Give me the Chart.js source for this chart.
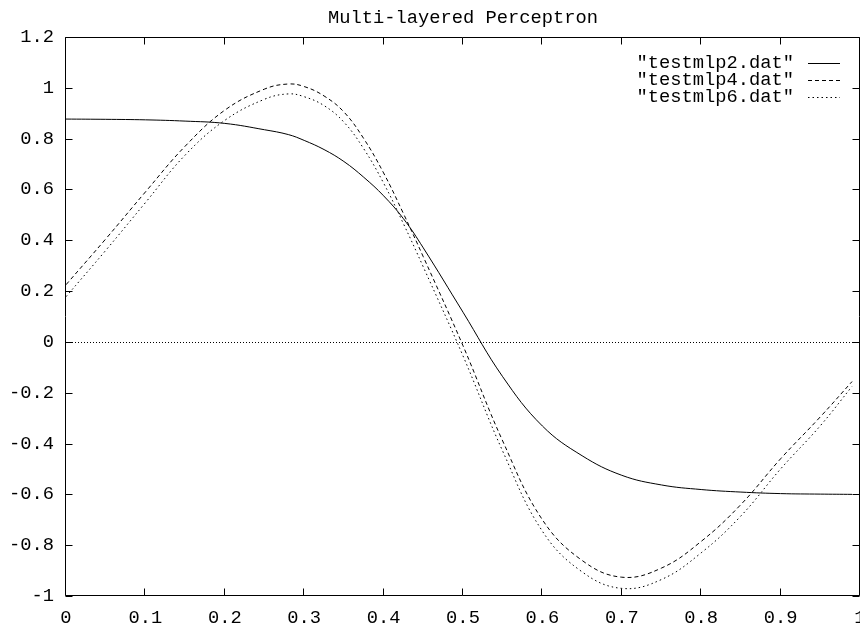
<!DOCTYPE html>
<html>
<head>
<meta charset="utf-8">
<script src="https://cdn.jsdelivr.net/npm/chart.js@4.4.0/dist/chart.umd.min.js"></script>
<style>
  html, body { margin: 0; padding: 0; background: #fff; }
  #wrap { width: 860px; height: 625px; }
</style>
</head>
<body>
<div id="wrap"><canvas id="chart" width="860" height="625"></canvas></div>
<script>
// values
const xValues = [0, 0.05, 0.1, 0.15, 0.2, 0.25, 0.28, 0.3, 0.325, 0.35, 0.375, 0.4, 0.425, 0.45, 0.5,
                 0.55, 0.6, 0.65, 0.7, 0.75, 0.8, 0.85, 0.9, 0.95, 0.99];
const mlp2 = [0.877, 0.876, 0.874, 0.869, 0.860, 0.835, 0.816, 0.793, 0.757, 0.71, 0.648, 0.575, 0.485, 0.37, 0.117,
              -0.137, -0.331, -0.448, -0.525, -0.563, -0.581, -0.591, -0.597, -0.599, -0.600];
const mlp4 = [0.225, 0.405, 0.59, 0.77, 0.912, 0.995, 1.015, 1.005, 0.968, 0.905, 0.80, 0.665, 0.505, 0.335, -0.015,
              -0.39, -0.70, -0.86, -0.926, -0.89, -0.785, -0.64, -0.46, -0.295, -0.156];
const mlp6 = [0.178, 0.36, 0.548, 0.735, 0.872, 0.955, 0.976, 0.965, 0.93, 0.865, 0.76, 0.625, 0.465, 0.295, -0.055,
              -0.43, -0.745, -0.905, -0.97, -0.935, -0.83, -0.685, -0.50, -0.33, -0.175];
const seriesNames = ['"testmlp2.dat"', '"testmlp4.dat"', '"testmlp6.dat"'];
const seriesDash = [[], [4, 3], [1.5, 3]];

const xRange = [0, 1], xStep = 0.1;
const yRange = [-1, 1.2], yStep = 0.2;

const FONT = { family: '"Liberation Mono", "DejaVu Sans Mono", monospace', size: 18.75 };
Chart.defaults.color = '#000';
Chart.defaults.font.family = FONT.family;
Chart.defaults.font.size = FONT.size;

const toPoints = ys => xValues.map((x, i) => ({ x: x, y: ys[i] }));
const fmt = v => String(parseFloat(Number(v).toFixed(1)));

// gnuplot-like frame, inside ticks, zero axis and key
const gnuplotLook = {
  id: 'gnuplotLook',
  beforeDatasetsDraw(chart) {
    const { ctx, chartArea: a, scales } = chart;
    const y0 = Math.round(scales.y.getPixelForValue(0)) + 0.5;
    ctx.save();
    ctx.strokeStyle = '#000';
    ctx.lineWidth = 1;
    ctx.setLineDash([1, 2]);
    ctx.beginPath();
    ctx.moveTo(a.left, y0);
    ctx.lineTo(a.right, y0);
    ctx.stroke();
    ctx.restore();
  },
  afterDatasetsDraw(chart) {
    const { ctx, chartArea: a, scales } = chart;
    const len = 7;
    const L = Math.round(a.left) - 0.5, R = Math.round(a.right) - 0.5;
    const T = Math.round(a.top) + 0.5, B = Math.round(a.bottom) - 0.5;
    ctx.save();
    ctx.strokeStyle = '#000';
    ctx.lineWidth = 1;
    ctx.setLineDash([]);
    ctx.beginPath();
    ctx.rect(L, T, R - L, B - T);
    scales.x.ticks.forEach(t => {
      const px = Math.round(scales.x.getPixelForValue(t.value)) - 0.5;
      ctx.moveTo(px, B); ctx.lineTo(px, B - len);
      ctx.moveTo(px, T); ctx.lineTo(px, T + len);
    });
    scales.y.ticks.forEach(t => {
      const py = Math.round(scales.y.getPixelForValue(t.value)) + 0.5;
      ctx.moveTo(L, py); ctx.lineTo(L + len, py);
      ctx.moveTo(R, py); ctx.lineTo(R - len, py);
    });
    ctx.stroke();
    ctx.restore();
  },
  afterDraw(chart) {
    const { ctx, chartArea: a } = chart;
    ctx.save();
    ctx.font = FONT.size + 'px ' + FONT.family;
    ctx.fillStyle = '#000';
    ctx.textAlign = 'right';
    ctx.textBaseline = 'middle';
    chart.data.datasets.forEach((ds, i) => {
      const y = a.top + 26 + i * 16.8;
      ctx.fillText(ds.label, a.right - 66, y);
      ctx.strokeStyle = ds.borderColor;
      ctx.lineWidth = ds.borderWidth;
      ctx.setLineDash(ds.borderDash);
      ctx.beginPath();
      ctx.moveTo(a.right - 52, Math.round(y) + 0.5);
      ctx.lineTo(a.right - 20, Math.round(y) + 0.5);
      ctx.stroke();
    });
    ctx.restore();
  }
};

const datasets = [mlp2, mlp4, mlp6].map((ys, i) => ({
  label: seriesNames[i],
  data: toPoints(ys),
  borderColor: '#000',
  borderWidth: 1,
  borderDash: seriesDash[i],
  pointRadius: 0,
  fill: false,
  tension: 0.4
}));

new Chart(document.getElementById('chart'), {
  type: 'line',
  data: { datasets: datasets },
  plugins: [gnuplotLook],
  options: {
    responsive: false,
    animation: false,
    events: [],
    layout: { padding: 0 },
    plugins: {
      legend: { display: false },
      tooltip: { enabled: false },
      title: {
        display: true,
        text: 'Multi-layered Perceptron',
        fullSize: false,
        color: '#000',
        font: { size: FONT.size, weight: 'normal' },
        padding: { top: 7, bottom: 7.5 }
      }
    },
    scales: {
      x: {
        type: 'linear',
        min: xRange[0], max: xRange[1],
        grid: { display: false, drawTicks: false },
        border: { display: false },
        ticks: { stepSize: xStep, padding: 11, maxRotation: 0, autoSkip: false, callback: fmt },
        afterFit(scale) { scale.paddingRight = 0; scale.paddingLeft = 0; scale.height = 29; }
      },
      y: {
        type: 'linear',
        min: yRange[0], max: yRange[1],
        grid: { display: false, drawTicks: false },
        border: { display: false },
        ticks: { stepSize: yStep, padding: 12, autoSkip: false, callback: fmt },
        afterFit(scale) { scale.width = 66; }
      }
    }
  }
});
</script>
</body>
</html>
